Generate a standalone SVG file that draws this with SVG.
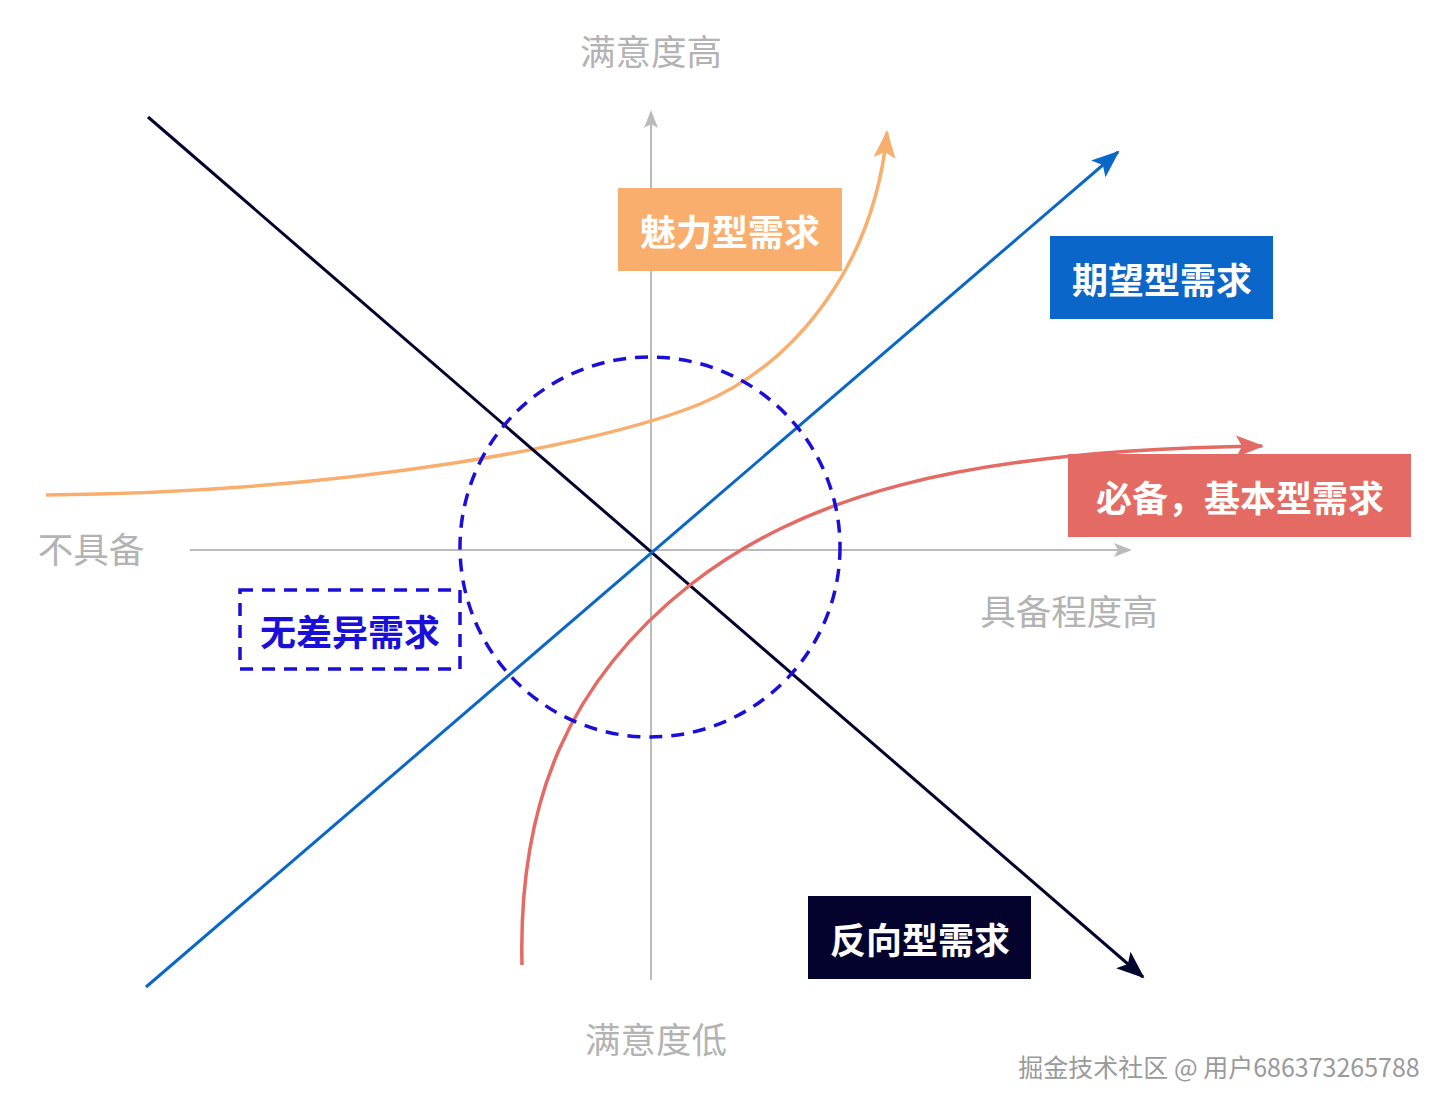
<svg xmlns="http://www.w3.org/2000/svg" width="1450" height="1108" viewBox="0 0 1450 1108">
<style>
.lbl{font-family:"Noto Sans CJK SC","Noto Sans",sans-serif;font-weight:bold;font-size:36px;fill:#fff;text-anchor:middle;dominant-baseline:central}
.ax{font-family:"Noto Sans CJK SC","Noto Sans",sans-serif;font-size:35.5px;fill:#b3b3b3;text-anchor:middle;dominant-baseline:central}
</style>
<defs>
<marker id="aG" markerWidth="20" markerHeight="20" refX="16" refY="7" orient="auto" markerUnits="userSpaceOnUse"><path d="M0,0 L18,7 L0,14 L4,7 Z" fill="#bbbbbb"/></marker>
<marker id="aN" markerWidth="32" markerHeight="32" refX="26" refY="11" orient="auto" markerUnits="userSpaceOnUse"><path d="M0,0 L28,11 L0,22 L6,11 Z" fill="#03032e"/></marker>
<marker id="aB" markerWidth="32" markerHeight="32" refX="26" refY="11" orient="auto" markerUnits="userSpaceOnUse"><path d="M0,0 L28,11 L0,22 L6,11 Z" fill="#0a66c8"/></marker>
<marker id="aO" markerWidth="32" markerHeight="32" refX="26" refY="11" orient="auto" markerUnits="userSpaceOnUse"><path d="M0,0 L28,11 L0,22 L6,11 Z" fill="#f9ae6e"/></marker>
<marker id="aR" markerWidth="32" markerHeight="32" refX="26" refY="11" orient="auto" markerUnits="userSpaceOnUse"><path d="M0,0 L28,11 L0,22 L6,11 Z" fill="#e46a64"/></marker>
</defs>
<rect width="1450" height="1108" fill="#fff"/>
<g id="connectors" fill="none">
<line x1="190" y1="550" x2="1130" y2="550" stroke="#bbbbbb" stroke-width="2" marker-end="url(#aG)"/>
<line x1="651" y1="980" x2="651" y2="112" stroke="#bbbbbb" stroke-width="2" marker-end="url(#aG)"/>
<path d="M46,495 C350,492 600,445 700,404 C800,362 875,260 887,132" stroke="#f9ae6e" stroke-width="3.5" marker-end="url(#aO)"/>
<line x1="148" y1="117" x2="1143" y2="977" stroke="#03032e" stroke-width="3" marker-end="url(#aN)"/>
<line x1="146" y1="987" x2="1118" y2="152" stroke="#0a66c8" stroke-width="3" marker-end="url(#aB)"/>
<path d="M522,965 C518,800 570,680 690,585 C800,500 950,450 1262,446" stroke="#e46a64" stroke-width="3.5" marker-end="url(#aR)"/>
<circle cx="650" cy="547" r="190" stroke="#1a0fd8" stroke-width="3.5" stroke-dasharray="13,9"/>
</g>
<g id="n-top"><text class="ax" x="651" y="49">满意度高</text></g>
<g id="n-bottom"><text class="ax" x="656" y="1037">满意度低</text></g>
<g id="n-left"><text class="ax" x="91" y="547">不具备</text></g>
<g id="n-right"><text class="ax" x="1069" y="609">具备程度高</text></g>
<g id="n-charm"><rect x="618" y="188" width="224" height="83" fill="#f9ae6e"/><text class="lbl" x="730" y="230">魅力型需求</text></g>
<g id="n-expect"><rect x="1050" y="236" width="223" height="83" fill="#0a66c8"/><text class="lbl" x="1162" y="278">期望型需求</text></g>
<g id="n-basic"><rect x="1068" y="454" width="343" height="83" fill="#e46a64"/><text class="lbl" x="1240" y="496">必备，基本型需求</text></g>
<g id="n-indiff"><rect x="240" y="590" width="220" height="79" fill="#fff" stroke="#1a0fd8" stroke-width="3.5" stroke-dasharray="13,9"/><text class="lbl" x="350" y="630" style="fill:#1a0fd8">无差异需求</text></g>
<g id="n-reverse"><rect x="808" y="896" width="223" height="83" fill="#03032e"/><text class="lbl" x="920" y="938">反向型需求</text></g>
<g id="watermark"><text x="1219" y="1066" font-family="'Noto Sans CJK SC','Noto Sans',sans-serif" font-size="25" fill="#9a9a9a" text-anchor="middle" dominant-baseline="central">掘金技术社区 @ 用户686373265788</text></g>
</svg>
